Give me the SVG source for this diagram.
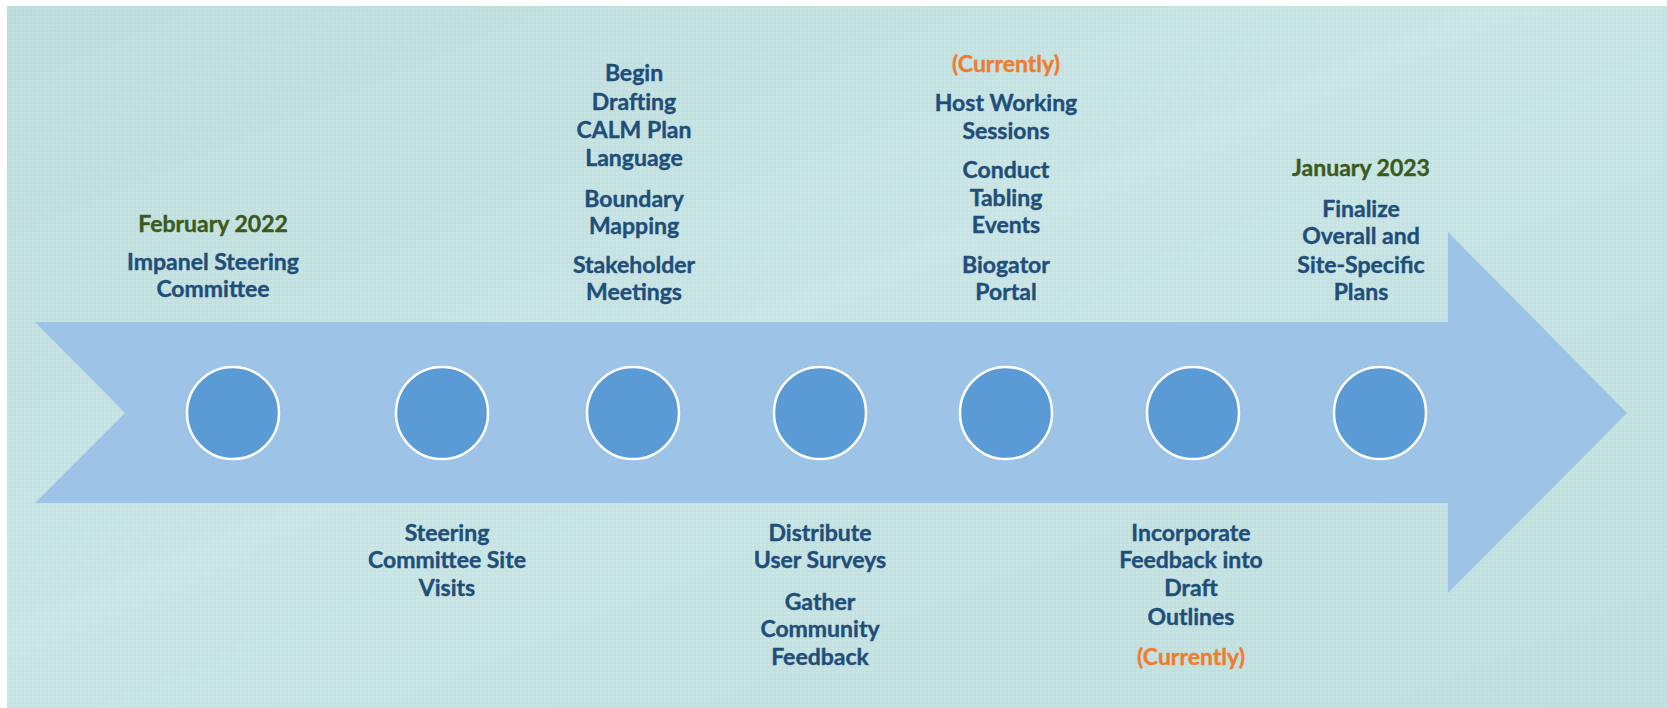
<svg xmlns="http://www.w3.org/2000/svg" width="1667" height="708" viewBox="0 0 1667 708">
<style>
text{font-family:Lato,"Open Sans","Liberation Sans",sans-serif;font-weight:700;font-size:23px;text-anchor:middle;stroke-width:0.4px}
.b{fill:#1f4e79;stroke:#1f4e79}
.g{fill:#3b5a1e;stroke:#3b5a1e}
.o{fill:#ed7d31;stroke:#ed7d31}
.dot{fill:#5b9bd5;stroke:#ffffff;stroke-width:2.5}
</style>
<defs>
<linearGradient id="bg" x1="0" y1="0" x2="1" y2="1">
<stop offset="0" stop-color="#bcdcdc"/>
<stop offset="0.45" stop-color="#c8e4e4"/>
<stop offset="1" stop-color="#bfdede"/>
</linearGradient>
<pattern id="ht" width="4" height="4" patternUnits="userSpaceOnUse">
<circle cx="1" cy="1" r="0.9" fill="#ffffff" fill-opacity="0.18"/>
</pattern>
</defs>
<rect width="1667" height="708" fill="#ffffff"/>
<rect x="7" y="6" width="1660" height="702" fill="url(#bg)"/>
<rect x="7" y="6" width="1660" height="702" fill="url(#ht)"/>
<g id="arrow">
<polygon points="35,322 1448,322 1448,232 1627,413 1448,593 1448,503 35,503 125,413" fill="#9dc3e6"/>
</g>
<g id="connectors"></g>
<g id="n1">
<circle class="dot" cx="233" cy="413" r="46"/>
<text class="g" x="213" y="232">February 2022</text>
<text class="b" x="213" y="270">Impanel Steering</text>
<text class="b" x="213" y="297">Committee</text>
</g>
<g id="n2">
<circle class="dot" cx="442" cy="413" r="46"/>
<text class="b" x="447" y="541">Steering</text>
<text class="b" x="447" y="568">Committee Site</text>
<text class="b" x="447" y="596">Visits</text>
</g>
<g id="n3">
<circle class="dot" cx="633" cy="413" r="46"/>
<text class="b" x="634" y="81">Begin</text>
<text class="b" x="634" y="110">Drafting</text>
<text class="b" x="634" y="138">CALM Plan</text>
<text class="b" x="634" y="166">Language</text>
<text class="b" x="634" y="207">Boundary</text>
<text class="b" x="634" y="234">Mapping</text>
<text class="b" x="634" y="273">Stakeholder</text>
<text class="b" x="634" y="300">Meetings</text>
</g>
<g id="n4">
<circle class="dot" cx="820" cy="413" r="46"/>
<text class="b" x="820" y="541">Distribute</text>
<text class="b" x="820" y="568">User Surveys</text>
<text class="b" x="820" y="610">Gather</text>
<text class="b" x="820" y="637">Community</text>
<text class="b" x="820" y="665">Feedback</text>
</g>
<g id="n5">
<circle class="dot" cx="1006" cy="413" r="46"/>
<text class="o" x="1006" y="72">(Currently)</text>
<text class="b" x="1006" y="111">Host Working</text>
<text class="b" x="1006" y="139">Sessions</text>
<text class="b" x="1006" y="178">Conduct</text>
<text class="b" x="1006" y="206">Tabling</text>
<text class="b" x="1006" y="233">Events</text>
<text class="b" x="1006" y="273">Biogator</text>
<text class="b" x="1006" y="300">Portal</text>
</g>
<g id="n6">
<circle class="dot" cx="1193" cy="413" r="46"/>
<text class="b" x="1191" y="541">Incorporate</text>
<text class="b" x="1191" y="568">Feedback into</text>
<text class="b" x="1191" y="596">Draft</text>
<text class="b" x="1191" y="625">Outlines</text>
<text class="o" x="1191" y="665">(Currently)</text>
</g>
<g id="n7">
<circle class="dot" cx="1380" cy="413" r="46"/>
<text class="g" x="1361" y="176">January 2023</text>
<text class="b" x="1361" y="217">Finalize</text>
<text class="b" x="1361" y="244">Overall and</text>
<text class="b" x="1361" y="273">Site-Specific</text>
<text class="b" x="1361" y="300">Plans</text>
</g>
</svg>
